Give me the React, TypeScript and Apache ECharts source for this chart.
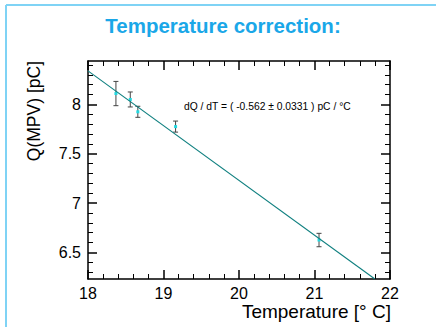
import React, { useEffect, useRef } from 'react';
import * as echarts from 'echarts';

const temperature = [18.37, 18.56, 18.66, 19.16, 21.06];
const charge = [8.11, 8.05, 7.925, 7.775, 6.625];
const chargeError = [0.123, 0.076, 0.056, 0.056, 0.068];
const fitT = [18, 21.8];
const fitQ = [8.34, 6.23];
const yMajorTicks = [6.5, 7, 7.5, 8];
const yMinorTicks = [6.3, 6.4, 6.6, 6.7, 6.8, 6.9, 7.1, 7.2, 7.3, 7.4, 7.6, 7.7, 7.8, 7.9, 8.1, 8.2, 8.3, 8.4];
const titleText = 'Temperature correction:';
const fitText = 'dQ / dT = ( -0.562 ± 0.0331 ) pC / °C';
const xTitle = 'Temperature [° C]';
const yTitle = 'Q(MPV) [pC]';

const FONT = '"Liberation Sans", Arial, sans-serif';

export default function App() {
  const ref = useRef<HTMLDivElement>(null);
  useEffect(() => {
    if (!ref.current) return;
    const chart = echarts.init(ref.current, null, { renderer: 'svg' });
    const axisLine = { show: true, onZero: false, lineStyle: { color: '#000', width: 1.5 } };
    const majorTick = { inside: true, length: 9, lineStyle: { color: '#000', width: 1.5 } };
    const minorTickStyle = { inside: true, length: 5, lineStyle: { color: '#000', width: 1 } };
    const xBase = (pos: string, labels: boolean) => ({
      type: 'value', min: 18, max: 22, interval: 1, position: pos,
      axisLine, axisTick: majorTick,
      minorTick: { show: true, splitNumber: 5, length: 5, lineStyle: { color: '#000', width: 1 } },
      axisLabel: { show: labels, fontSize: 16, color: '#000', margin: 6, fontFamily: FONT },
      splitLine: { show: false }, minorSplitLine: { show: false },
    });
    const yBase = (pos: string, labels: boolean, minor: boolean) => ({
      type: 'value', min: 6.23, max: 8.44, position: pos,
      axisLine: minor ? { show: false } : axisLine,
      axisTick: minor ? { ...minorTickStyle, customValues: yMinorTicks } : { ...majorTick, customValues: yMajorTicks },
      axisLabel: labels
        ? { show: true, customValues: yMajorTicks, fontSize: 16, color: '#000', margin: 7, fontFamily: FONT }
        : { show: false },
      splitLine: { show: false },
    });
    chart.setOption({
      animation: false,
      backgroundColor: '#fff',
      grid: { left: 88, right: 46, top: 61, bottom: 48, containLabel: false },
      xAxis: [xBase('bottom', true), xBase('top', false)],
      yAxis: [
        yBase('left', true, false),
        yBase('left', false, true),
        yBase('right', false, false),
        yBase('right', false, true),
      ],
      series: [
        {
          type: 'line',
          xAxisIndex: 0,
          yAxisIndex: 0,
          data: fitT.map((t, i) => [t, fitQ[i]]),
          symbol: 'none',
          lineStyle: { color: '#0e7f7f', width: 1.1 },
          clip: true,
        },
        {
          type: 'custom',
          xAxisIndex: 0,
          yAxisIndex: 0,
          encode: { x: 0, y: 1 },
          data: temperature.map((t, i) => [t, charge[i], chargeError[i]]),
          renderItem: (params: any, api: any) => {
            const x = api.value(0);
            const y = api.value(1);
            const e = api.value(2);
            const c = api.coord([x, y]);
            const top = api.coord([x, y + e]);
            const bot = api.coord([x, y - e]);
            const cap = 2.5;
            const stroke = { stroke: '#444', lineWidth: 1 };
            return {
              type: 'group',
              children: [
                { type: 'line', shape: { x1: c[0], y1: top[1], x2: c[0], y2: bot[1] }, style: stroke },
                { type: 'line', shape: { x1: c[0] - cap, y1: top[1], x2: c[0] + cap, y2: top[1] }, style: stroke },
                { type: 'line', shape: { x1: c[0] - cap, y1: bot[1], x2: c[0] + cap, y2: bot[1] }, style: stroke },
                { type: 'rect', shape: { x: c[0] - 1.5, y: c[1] - 1.5, width: 3, height: 3 }, style: { fill: '#22d8e0' } },
              ],
            };
          },
        },
      ],
      graphic: [
        { type: 'line', shape: { x1: 6, y1: 5, x2: 6, y2: 327 }, style: { stroke: '#7fd3f5', lineWidth: 2 } },
        { type: 'line', shape: { x1: 6, y1: 5, x2: 436, y2: 5 }, style: { stroke: '#7fd3f5', lineWidth: 2 } },
        {
          type: 'text', x: 223, y: 25,
          style: { text: titleText, fontSize: 20.5, fontWeight: 'bold', fontFamily: FONT, fill: '#1aa7e8', align: 'center', verticalAlign: 'middle', textAlign: 'center', textVerticalAlign: 'middle' },
        },
        {
          type: 'text', x: 184, y: 106,
          style: { text: fitText, fontSize: 10.3, fontFamily: FONT, fill: '#000', align: 'left', verticalAlign: 'middle', textAlign: 'left', textVerticalAlign: 'middle' },
        },
        {
          type: 'text', x: 391, y: 311,
          style: { text: xTitle, fontSize: 19, fontFamily: FONT, fill: '#000', align: 'right', verticalAlign: 'middle', textAlign: 'right', textVerticalAlign: 'middle' },
        },
        {
          type: 'text', x: 34, y: 61, rotation: Math.PI / 2,
          style: { text: yTitle, fontSize: 17.5, fontFamily: FONT, fill: '#000', align: 'right', verticalAlign: 'middle', textAlign: 'right', textVerticalAlign: 'middle' },
        },
      ],
    });
    return () => chart.dispose();
  }, []);
  return <div ref={ref} style={{ position: 'absolute', left: 0, top: 0, width: 436, height: 327 }} />;
}
